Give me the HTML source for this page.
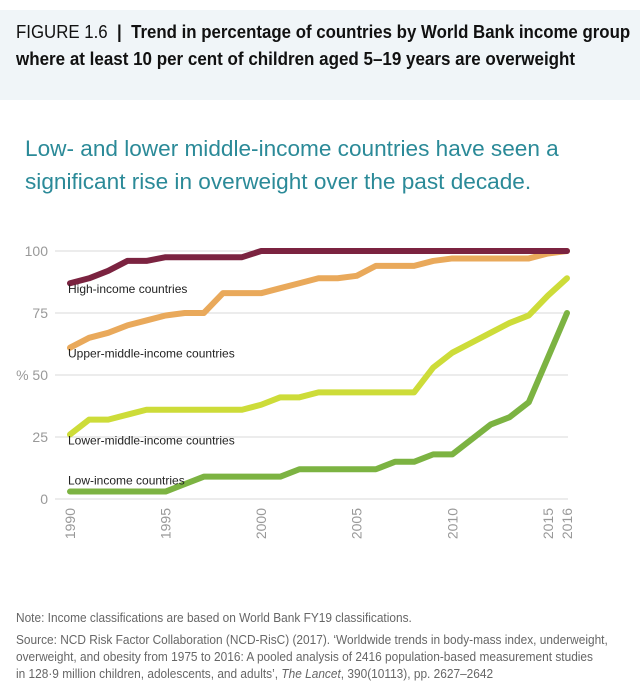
<!DOCTYPE html>
<html><head><meta charset="utf-8">
<style>
body{margin:0;width:640px;height:698px;background:#fff;font-family:"Liberation Sans",sans-serif;overflow:hidden;position:relative}
.hdr{position:absolute;left:0;top:10px;width:640px;height:90px;background:#f0f5f8}
.t{position:absolute;left:16px;font-size:18px;color:#111;white-space:nowrap;transform-origin:left top}
.sub{position:absolute;left:25px;font-size:22.6px;color:#2b8a98;white-space:nowrap}
.note{position:absolute;left:16px;font-size:12.5px;color:#666;white-space:nowrap;transform:scaleX(0.95);transform-origin:left top}
</style></head><body>
<div class="hdr"></div>
<div class="t" style="top:22px;transform:scaleX(0.935)">FIGURE 1.6 &nbsp;<b>|</b>&nbsp; <b>Trend in percentage of countries by World Bank income group</b></div>
<div class="t" style="top:49px;transform:scaleX(0.944)"><b>where at least 10 per cent of children aged 5–19 years are overweight</b></div>
<div class="sub" style="top:136px">Low- and lower middle-income countries have seen a</div>
<div class="sub" style="top:169px">significant rise in overweight over the past decade.</div>
<svg id="chart" width="640" height="698" style="position:absolute;left:0;top:0"></svg>
<div class="note" style="top:611px">Note: Income classifications are based on World Bank FY19 classifications.</div>
<div class="note" style="top:633px">Source: NCD Risk Factor Collaboration (NCD-RisC) (2017). ‘Worldwide trends in body-mass index, underweight,</div>
<div class="note" style="top:650px">overweight, and obesity from 1975 to 2016: A pooled analysis of 2416 population-based measurement studies</div>
<div class="note" style="top:667px">in 128·9 million children, adolescents, and adults’, <i>The Lancet</i>, 390(10113), pp. 2627–2642</div>
<script>
const years=[1990,1991,1992,1993,1994,1995,1996,1997,1998,1999,2000,2001,2002,2003,2004,2005,2006,2007,2008,2009,2010,2011,2012,2013,2014,2015,2016];
const high=[87,89,92,96,96,97.5,97.5,97.5,97.5,97.5,100,100,100,100,100,100,100,100,100,100,100,100,100,100,100,100,100];
const upper=[61,65,67,70,72,74,75,75,83,83,83,85,87,89,89,90,94,94,94,96,97,97,97,97,97,99,100];
const lower=[26,32,32,34,36,36,36,36,36,36,38,41,41,43,43,43,43,43,43,53,59,63,67,71,74,82,89];
const low=[3,3,3,3,3,3,6,9,9,9,9,9,12,12,12,12,12,15,15,18,18,24,30,33,39,57,75];
const yTicks=[0,25,50,75,100];
const xTicks=[1990,1995,2000,2005,2010,2015,2016];
const series=[
 {name:'low-income',vals:low,color:'#7cb342',label:'Low-income countries',lv:3},
 {name:'lower-middle-income',vals:lower,color:'#cddc39',label:'Lower-middle-income countries',lv:26},
 {name:'upper-middle-income',vals:upper,color:'#e9a95b',label:'Upper-middle-income countries',lv:61},
 {name:'high-income',vals:high,color:'#7b2340',label:'High-income countries',lv:87}
];
const NS='http://www.w3.org/2000/svg';
const svg=document.getElementById('chart');
const X=y=>70+(y-1990)*(567-70)/26;
const Y=v=>499-v*(499-251)/100;
function mk(t,a){const e=document.createElementNS(NS,t);for(const k in a)e.setAttribute(k,a[k]);svg.appendChild(e);return e;}
yTicks.forEach(v=>{
 const l=mk('line',{x1:55,x2:568,y1:Y(v),y2:Y(v),stroke:'#d8d8d8','stroke-width':1});
 
 
 const t=mk('text',{x:48,y:Y(v)+5,'text-anchor':'end','font-size':14,fill:'#999','font-family':'Liberation Sans, sans-serif'});
 t.textContent=v===50?'% 50':v;
 
 
});
xTicks.forEach(yr=>{
 const t=mk('text',{x:0,y:0,'text-anchor':'end','font-size':14,fill:'#999','font-family':'Liberation Sans, sans-serif',transform:`translate(${X(yr)+5},508) rotate(-90)`});
 t.textContent=yr;
 
 
});
series.forEach(s=>{
 const p=mk('polyline',{points:s.vals.map((v,i)=>X(years[i])+','+Y(v)).join(' '),fill:'none',stroke:s.color,'stroke-width':6,'stroke-linejoin':'round','stroke-linecap':'round'});
 
 
});
series.forEach(s=>{
 const t=mk('text',{x:68,y:Y(s.lv)-2+(s.lv<10?-5:12),'font-size':12,fill:'#222','font-family':'Liberation Sans, sans-serif'});
 t.textContent=s.label;
 
 
});
</script>
</body></html>
